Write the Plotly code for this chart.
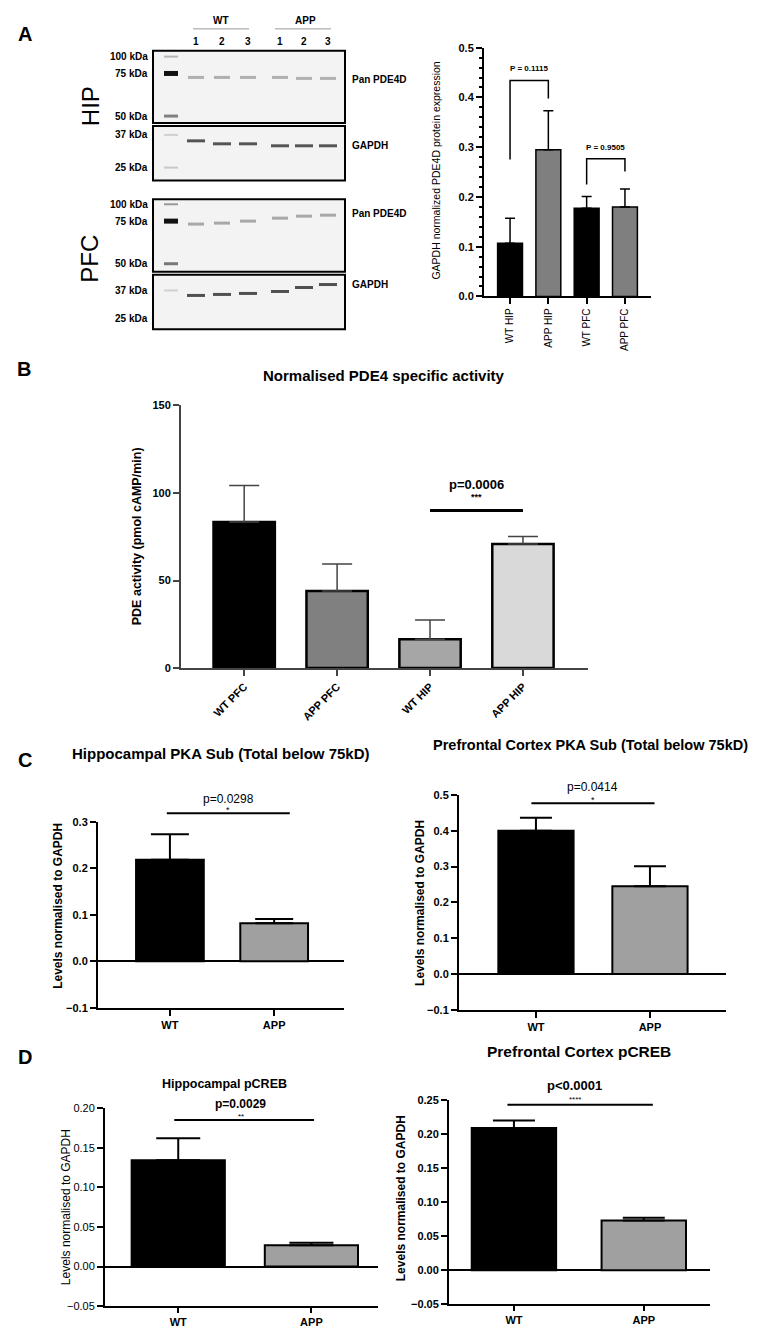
import plotly.graph_objects as go

W, H = 761, 1329
FONT = "Liberation Sans, Arial, sans-serif"


def px(x):
    return x / W


def py(y):
    return 1 - y / H


# ---------------- data ----------------
a_cats = ["WT HIP", "APP HIP", "WT PFC", "APP PFC"]
a_vals = [0.107, 0.295, 0.177, 0.180]
a_err = [0.050, 0.078, 0.024, 0.036]

b_cats = ["WT PFC", "APP PFC", "WT HIP", "APP HIP"]
b_vals = [83.4, 44.0, 16.4, 70.8]
b_err = [20.9, 15.4, 11.0, 4.3]

cd_cats = ["WT", "APP"]
c1_vals = [0.218, 0.082]
c1_err = [0.055, 0.009]
c2_vals = [0.400, 0.245]
c2_err = [0.036, 0.056]
d1_vals = [0.134, 0.027]
d1_err = [0.028, 0.003]
d2_vals = [0.209, 0.073]
d2_err = [0.011, 0.004]

YR = {"": [0, 0.5], "2": [0, 150], "3": [-0.1, 0.3], "4": [-0.1, 0.5],
      "5": [-0.05, 0.20], "6": [-0.05, 0.25]}

fig = go.Figure()


def add_bars(ax, vals, err, colors, width, lw, cap, ethick, ecolor="black"):
    n = len(vals)
    fig.add_trace(go.Bar(
        x=list(range(n)), y=vals, width=width,
        marker=dict(color=colors, line=dict(color="black", width=lw)),
        error_y=dict(type="data", array=err, arrayminus=[0] * n, symmetric=False,
                     color=ecolor, thickness=ethick, width=cap),
        xaxis="x" + ax, yaxis="y" + ax, showlegend=False, hoverinfo="skip"))


add_bars("", a_vals, a_err, ["#000000", "#7f7f7f", "#000000", "#7f7f7f"], 0.65, 1.5, 5, 1.5)
add_bars("2", b_vals, b_err, ["#000000", "#808080", "#a6a6a6", "#d9d9d9"], 0.66, 2.5, 15, 1.5, "#444444")
add_bars("3", c1_vals, c1_err, ["#000000", "#a0a0a0"], 0.65, 2, 19, 2)
add_bars("4", c2_vals, c2_err, ["#000000", "#a0a0a0"], 0.66, 2, 16, 2)
add_bars("5", d1_vals, d1_err, ["#000000", "#a0a0a0"], 0.70, 2, 22, 2)
add_bars("6", d2_vals, d2_err, ["#000000", "#a0a0a0"], 0.65, 2, 21, 2)


def xax(x0, x1, rng, cats, angle, fsize, bold, anchor, lc="black", tl=6):
    return dict(domain=[px(x0), px(x1)], range=rng, anchor=anchor,
                tickvals=list(range(len(cats))), ticktext=cats, tickangle=angle,
                showline=True, linecolor=lc, linewidth=2, ticks="outside", ticklen=tl,
                tickwidth=2, tickcolor=lc, showgrid=False, zeroline=False,
                tickfont=dict(family=FONT, size=fsize, color="black",
                              weight="bold" if bold else "normal"),
                fixedrange=True)


def yax(ytop, ybot, ax, dtick, fmt, fsize, bold, anchor, zero=False, lc="black"):
    return dict(domain=[py(ybot), py(ytop)], range=YR[ax], anchor=anchor,
                dtick=dtick, tick0=0, tickformat=fmt,
                showline=True, linecolor=lc, linewidth=2, ticks="outside", ticklen=6,
                tickwidth=2, tickcolor=lc, showgrid=False,
                zeroline=zero, zerolinecolor="black", zerolinewidth=2,
                tickfont=dict(family=FONT, size=fsize, color="black",
                              weight="bold" if bold else "normal"),
                fixedrange=True)


ya = yax(34, 285, "", 0.1, ".1f", 11, True, "x")
ya["minor"] = dict(dtick=0.02, ticks="outside", ticklen=3, tickcolor="black", tickwidth=1.5)
yb = yax(395, 660, "2", 50, "d", 11, True, "x2", lc="#444444")

fig.update_layout(
    width=W, height=H, margin=dict(l=0, r=0, t=0, b=0),
    paper_bgcolor="white", plot_bgcolor="white",
    font=dict(family=FONT, color="black"),
    barmode="overlay",
    xaxis=xax(476, 643, [-0.68, 3.68], a_cats, -90, 10, False, "y"),
    yaxis=ya,
    xaxis2=xax(173, 580, [-0.68, 3.70], b_cats, -45, 11, True, "y2", lc="#444444"),
    yaxis2=yb,
    xaxis3=xax(90, 336, [-0.69, 1.67], cd_cats, 0, 11, True, "y3"),
    yaxis3=yax(815, 1003, "3", 0.1, ".1f", 11, True, "x3", zero=True),
    xaxis4=xax(451, 718, [-0.675, 1.667], cd_cats, 0, 11, True, "y4"),
    yaxis4=yax(788, 1005, "4", 0.1, ".1f", 11, True, "x4", zero=True),
    xaxis5=xax(97, 370, [-0.55, 1.5], cd_cats, 0, 11, True, "y5", tl=5),
    yaxis5=yax(1104, 1304, "5", 0.05, ".2f", 11, False, "x5", zero=True),
    xaxis6=xax(441, 702, [-0.5, 1.51], cd_cats, 0, 11, True, "y6", tl=5),
    yaxis6=yax(1096, 1302, "6", 0.05, ".2f", 11, True, "x6", zero=True),
)

shapes = []
ann = []


def yfrac(ax, y):
    r0, r1 = YR[ax]
    return (y - r0) / (r1 - r0)


def ydom(ax):
    return ("y" + ax + " domain") if ax else "y domain"


def text_px(x, y, s, size, bold=False, angle=0, xanchor="center", color="black"):
    ann.append(dict(x=px(x), y=py(y), xref="paper", yref="paper", text=s, showarrow=False,
                    textangle=angle, xanchor=xanchor, yanchor="middle",
                    font=dict(family=FONT, size=size, color=color,
                              weight="bold" if bold else "normal")))


def text_data(ax, x, y, s, size, bold=False):
    ann.append(dict(x=x, y=yfrac(ax, y), xref="x" + ax, yref=ydom(ax), text=s, showarrow=False,
                    xanchor="center", yanchor="middle",
                    font=dict(family=FONT, size=size, color="black",
                              weight="bold" if bold else "normal")))


def line_data(ax, x0, x1, y, w=2):
    f = yfrac(ax, y)
    shapes.append(dict(type="line", xref="x" + ax, yref=ydom(ax), x0=x0, x1=x1, y0=f, y1=f,
                       line=dict(color="black", width=w)))


# ---------------- Panel A: western blot (decorative) ----------------
text_px(8, 20, "A", 20, True, xanchor="left")
text_px(213, 7, "WT", 10, True)
text_px(297, 7, "APP", 10, True)
for x0, x1 in [(185, 241), (267, 323)]:
    shapes.append(dict(type="line", xref="paper", yref="paper", x0=px(x0), x1=px(x1),
                       y0=py(15), y1=py(15), line=dict(color="#999999", width=1)))
lanes = [188, 214, 240, 272, 296, 320]
for i, lx in enumerate(lanes):
    text_px(lx, 28, str([1, 2, 3][i % 3]), 10, True)

boxes = [(37, 110), (113, 168), (187, 260), (263, 318)]
for y0, y1 in boxes:
    shapes.append(dict(type="rect", xref="paper", yref="paper", x0=px(145), x1=px(337),
                       y0=py(y1), y1=py(y0), fillcolor="#f3f3f3",
                       line=dict(color="black", width=2)))


def band(x, y, color, w=3, half=7):
    shapes.append(dict(type="line", xref="paper", yref="paper", x0=px(x - half), x1=px(x + half),
                       y0=py(y), y1=py(y), line=dict(color=color, width=w)))


# ladder
for y, c, w in [(43, "#b5b5b5", 2), (60, "#111111", 5), (103, "#808080", 3),
                (122, "#d0d0d0", 2), (155, "#c8c8c8", 2),
                (192, "#999999", 2), (209, "#111111", 5), (252, "#777777", 3),
                (279, "#d0d0d0", 2)]:
    band(163, y, c, w)
for lx, y in zip(lanes, [64, 64, 64, 64, 65, 65]):
    band(lx, y, "#b0b0b0", 3, 8)
for lx, y in zip(lanes, [128, 131, 131, 133, 133, 133]):
    band(lx, y, "#555555", 3, 9)
for lx, y in zip(lanes, [212, 211, 209, 206, 204, 203]):
    band(lx, y, "#a8a8a8", 3, 8)
for lx, y in zip(lanes, [284, 283, 282, 280, 276, 273]):
    band(lx, y, "#505050", 3, 9)

for y, s in [(43, "100 kDa"), (60, "75 kDa"), (103, "50 kDa"), (122, "37 kDa"), (155, "25 kDa"),
             (192, "100 kDa"), (209, "75 kDa"), (252, "50 kDa"), (279, "37 kDa"), (307, "25 kDa")]:
    text_px(142, y, s, 10, True, xanchor="right")
for y, s in [(66, "Pan PDE4D"), (133, "GAPDH"), (201, "Pan PDE4D"), (273, "GAPDH")]:
    text_px(342, y, s, 10, True, xanchor="left")
text_px(82, 93, "HIP", 24, False, angle=-90)
text_px(82, 247, "PFC", 24, False, angle=-90)

# ---------------- Panel A: bar chart ----------------
text_px(428, 158, "GAPDH normalized PDE4D protein expression", 10.5, False, angle=-90)
shapes.append(dict(type="path", xref="x", yref="y", path="M 0,0.275 L 0,0.434 L 1,0.434 L 1,0.398",
                   line=dict(color="black", width=1.5)))
shapes.append(dict(type="path", xref="x", yref="y", path="M 2,0.225 L 2,0.277 L 3,0.277 L 3,0.251",
                   line=dict(color="black", width=1.5)))
text_data("", 0.5, 0.458, "P = 0.1115", 8, True)
text_data("", 2.5, 0.299, "P = 0.9505", 8, True)

# ---------------- Panel B ----------------
text_px(7, 358, "B", 20, True, xanchor="left")
text_px(376, 365, "Normalised PDE4 specific activity", 15, True)
text_px(129, 527, "PDE activity (pmol cAMP/min)", 12.5, True, angle=-90)
line_data("2", 2, 3, 90, 3)
text_data("2", 2.5, 105, "p=0.0006", 13, True)
text_data("2", 2.5, 97.5, "***", 9, True)

# ---------------- Panel C ----------------
text_px(8, 753, "C", 20, True, xanchor="left")
text_px(213, 746, "Hippocampal PKA Sub (Total below 75kD)", 15, True)
text_px(582, 738, "Prefrontal Cortex PKA Sub (Total below 75kD)", 14.5, True)
text_px(50, 900, "Levels normalised to GAPDH", 12, True, angle=-90)
text_px(412, 897, "Levels normalised to GAPDH", 12, True, angle=-90)
line_data("3", -0.03, 1.15, 0.318, 2)
text_data("3", 0.56, 0.349, "p=0.0298", 12)
text_data("3", 0.56, 0.326, "*", 9)
line_data("4", -0.04, 1.04, 0.477, 2)
text_data("4", 0.5, 0.521, "p=0.0414", 12)
text_data("4", 0.5, 0.485, "*", 9)

# ---------------- Panel D ----------------
text_px(8, 1052, "D", 20, True, xanchor="left")
text_px(216, 1080, "Hippocampal pCREB", 12.5, True)
text_px(571, 1047, "Prefrontal Cortex pCREB", 15.5, True)
text_px(58, 1204, "Levels normalised to GAPDH", 12, False, angle=-90)
text_px(393, 1195, "Levels normalised to GAPDH", 12, True, angle=-90)
line_data("5", -0.03, 1.02, 0.185, 2)
text_data("5", 0.47, 0.205, "p=0.0029", 12, True)
text_data("5", 0.47, 0.1895, "**", 8)
line_data("6", -0.05, 1.07, 0.243, 2)
text_data("6", 0.47, 0.272, "p<0.0001", 13, True)
text_data("6", 0.47, 0.2515, "****", 8)

fig.update_layout(shapes=shapes, annotations=ann)
fig.write_html("out.html")
